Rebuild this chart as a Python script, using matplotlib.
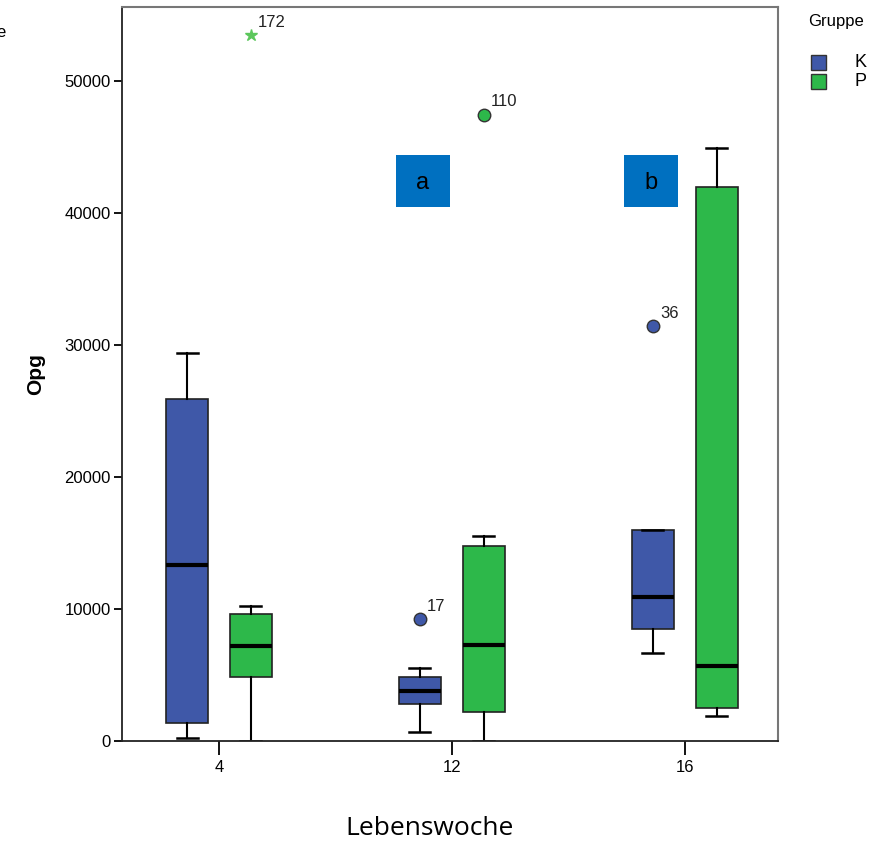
import matplotlib.pyplot as plt
from matplotlib.patches import Rectangle

plt.rcParams['font.family'] = ['Liberation Sans', 'DejaVu Sans']

# Daten
wochen = ['4', '12', '16']
gruppen = ['K', 'P']
farben = {'K': '#3F58A8', 'P': '#2DB84A'}

k_whislo = [200, 650, 6700]
k_q1 = [1340, 2800, 8450]
k_med = [13330, 3790, 10900]
k_q3 = [25900, 4850, 15950]
k_whishi = [29420, 5500, 15950]

p_whislo = [0, 0, 1860]
p_q1 = [4870, 2220, 2500]
p_med = [7200, 7300, 5700]
p_q3 = [9620, 14770, 42000]
p_whishi = [10230, 15530, 44920]

# Ausreisser: (Woche-Index, Gruppe, Wert, Fallnummer, extrem)
ausreisser = [
    (0, 'P', 53480, '172', True),
    (1, 'K', 9240, '17', False),
    (1, 'P', 47450, '110', False),
    (2, 'K', 31400, '36', False),
]

# Markierungen: (linke Kante in Kategorie-Einheiten, Text)
markierungen = [(0.760, 'a'), (1.738, 'b')]

fig = plt.figure(figsize=(8.83, 8.44), dpi=100)
ax = fig.add_axes([0.1382, 0.1220, 0.7429, 0.8697])

offset = {'K': -0.137, 'P': 0.137}
breite = 0.18

def stats(lo, q1, med, q3, hi):
    return [dict(whislo=a, q1=b, med=c, q3=d, whishi=e, fliers=[])
            for a, b, c, d, e in zip(lo, q1, med, q3, hi)]

for g, s in [('K', stats(k_whislo, k_q1, k_med, k_q3, k_whishi)),
             ('P', stats(p_whislo, p_q1, p_med, p_q3, p_whishi))]:
    pos = [i + offset[g] for i in range(len(wochen))]
    ax.bxp(s, positions=pos, widths=breite, patch_artist=True, showfliers=False,
           boxprops=dict(facecolor=farben[g], edgecolor='#222222', linewidth=1.2),
           medianprops=dict(color='black', linewidth=3),
           whiskerprops=dict(color='black', linewidth=1.5),
           capprops=dict(color='black', linewidth=1.8),
           manage_ticks=False)

for i, g, v, nr, extrem in ausreisser:
    x = i + offset[g]
    if extrem:
        ax.plot(x, v, marker='*', color='#5CC75C', markersize=9, linestyle='none')
    else:
        ax.plot(x, v, marker='o', markerfacecolor=farben[g], markeredgecolor='#333333',
                markersize=9, linestyle='none')
    ax.annotate(nr, (x, v), xytext=(5, 6), textcoords='offset points',
                fontsize=12, color='#222222')

for x0, t in markierungen:
    ax.add_patch(Rectangle((x0, 40450), 0.232, 3950, facecolor='#0070C0',
                           edgecolor='none', zorder=5))
    ax.text(x0 + 0.116, 42300, t, ha='center', va='center', fontsize=17,
            color='black', zorder=6)

ax.set_xlim(-0.416, 2.40)
ax.set_ylim(0, 55600)
ax.set_xticks(range(len(wochen)))
ax.set_xticklabels(wochen, fontsize=12)
ax.set_yticks([0, 10000, 20000, 30000, 40000, 50000])
ax.set_yticklabels(['0', '10000', '20000', '30000', '40000', '50000'], fontsize=12)
ax.tick_params(axis='x', length=10, width=1.3, pad=4)
ax.tick_params(axis='y', length=6, width=1.3, pad=2)
for side in ['left', 'bottom']:
    ax.spines[side].set_color('#222222')
    ax.spines[side].set_linewidth(1.3)
for side in ['top', 'right']:
    ax.spines[side].set_color('#777777')
    ax.spines[side].set_linewidth(1.5)

ax.set_ylabel('Opg', fontsize=15, fontweight='bold', labelpad=14)
fig.text(0.487, 0.003, 'Lebenswoche', ha='center', va='bottom', fontsize=19,
         family=['Open Sans', 'DejaVu Sans'])

# Legende
fig.text(0.915, 0.975, 'Gruppe', ha='left', va='center', fontsize=12)
for j, g in enumerate(gruppen):
    y = 0.926 - j * 0.0225
    fig.patches.append(Rectangle((0.919, y - 0.0085), 0.017, 0.017, facecolor=farben[g],
                                 edgecolor='#333333', linewidth=1, transform=fig.transFigure))
    fig.text(0.968, y, g, ha='left', va='center', fontsize=13)

# abgeschnittener Rest links oben (wie im Original)
fig.text(-0.004, 0.962, 'e', ha='left', va='center', fontsize=12)

fig.savefig('out.png', dpi=100)
